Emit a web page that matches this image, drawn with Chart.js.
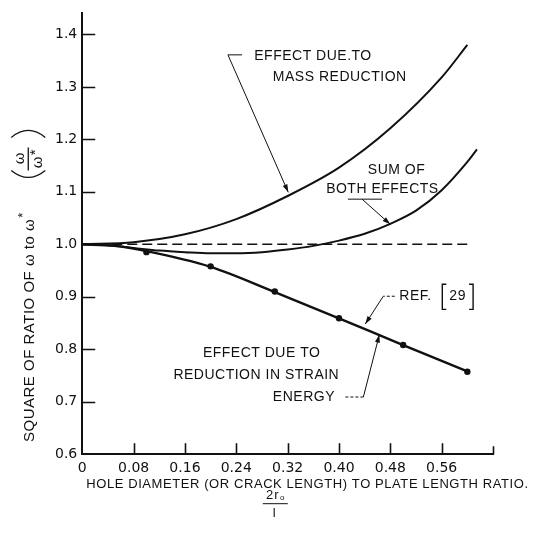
<!DOCTYPE html>
<html>
<head>
<meta charset="utf-8">
<script src="https://cdn.jsdelivr.net/npm/chart.js@4.4.1/dist/chart.umd.min.js"></script>
<style>
  html, body { margin: 0; padding: 0; background: #fff; }
  canvas { display: block; }
</style>
</head>
<body>
<canvas id="ratioChart" width="536" height="548"></canvas>
<script>
// Square of frequency ratio against hole size

const xTicks = [0, 0.08, 0.16, 0.24, 0.32, 0.40, 0.48, 0.56, 0.64];
const xTickLabels = ['0', '0.08', '0.16', '0.24', '0.32', '0.40', '0.48', '0.56', ''];
const yTicks = [0.6, 0.7, 0.8, 0.9, 1.0, 1.1, 1.2, 1.3, 1.4];
const yTickLabels = ['0.6', '0.7', '0.8', '0.9', '1.0', '1.1', '1.2', '1.3', '1.4'];

// effect due to mass reduction
const massX = [0, 0.08, 0.16, 0.24, 0.32, 0.40, 0.48, 0.56, 0.60];
const massY = [1.0, 1.004, 1.019, 1.048, 1.092, 1.146, 1.221, 1.318, 1.38];

// sum of both effects
const sumX = [0, 0.04, 0.08, 0.12, 0.16, 0.20, 0.24, 0.28, 0.32, 0.36, 0.40, 0.44, 0.48, 0.52, 0.56, 0.60, 0.615];
const sumY = [1.0, 0.998, 0.993, 0.988, 0.985, 0.983, 0.983, 0.985, 0.990, 0.997, 1.007, 1.020, 1.039, 1.064, 1.103, 1.157, 1.181];

// effect due to reduction in strain energy
const strainX = [0, 0.05, 0.1, 0.2, 0.3, 0.4, 0.5, 0.6];
const strainY = [1.0, 0.997, 0.987, 0.957, 0.909, 0.859, 0.808, 0.758];

// points from ref. [29]
const refX = [0.1, 0.2, 0.3, 0.4, 0.5, 0.6];
const refY = [0.985, 0.958, 0.910, 0.859, 0.808, 0.757];

// unity reference line
const unityX = [0, 0.60];
const unityY = [1.0, 1.0];

const INK = '#111';

function pts(xs, ys) {
    return xs.map((x, i) => ({ x: x, y: ys[i] }));
}

// callout text, placed in data units
const notes = [
    { text: 'EFFECT DUE.TO', x: 0.268, y: 1.359 },
    { text: 'MASS REDUCTION', x: 0.297, y: 1.319 },
    { text: 'SUM OF', x: 0.445, y: 1.141 },
    { text: 'BOTH EFFECTS', x: 0.380, y: 1.105 },
    { text: 'REF.', x: 0.494, y: 0.901 },
    { text: '29', x: 0.572, y: 0.901 },
    { text: 'EFFECT DUE TO', x: 0.188, y: 0.793 },
    { text: 'REDUCTION IN STRAIN', x: 0.142, y: 0.751 },
    { text: 'ENERGY', x: 0.297, y: 0.709 }
];

// leader lines; arrow drawn at the last point
const leaders = [
    { path: [[0.249, 1.361], [0.227, 1.361], [0.321, 1.099]], arrow: true },
    { path: [[0.467, 1.086], [0.414, 1.086]] },
    { path: [[0.436, 1.086], [0.480, 1.038]], arrow: true },
    { path: [[0.487, 0.901], [0.469, 0.901]], dash: [3, 2] },
    { path: [[0.469, 0.901], [0.441, 0.848]], arrow: true },
    { path: [[0.410, 0.709], [0.438, 0.709]], dash: [3, 2] },
    { path: [[0.438, 0.709], [0.463, 0.828]], arrow: true }
];

// brackets round the reference number
const brackets = [
    { x: 0.561, y0: 0.924, y1: 0.876, dir: 1 },
    { x: 0.609, y0: 0.924, y1: 0.876, dir: -1 }
];

const decorations = {
    id: 'decorations',
    afterDraw(chart) {
        const ctx = chart.ctx;
        const xs = chart.scales.x;
        const ys = chart.scales.y;
        const area = chart.chartArea;
        const px = v => xs.getPixelForValue(v);
        const py = v => ys.getPixelForValue(v);

        ctx.save();
        ctx.strokeStyle = INK;
        ctx.fillStyle = INK;

        // inward tick marks
        ctx.lineWidth = 1.6;
        ctx.beginPath();
        yTicks.forEach(v => {
            if (v === 0.6) return;
            const y = Math.round(py(v)) + 0.5;
            ctx.moveTo(area.left, y);
            ctx.lineTo(area.left + 13, y);
        });
        xTicks.forEach(v => {
            if (v === 0) return;
            const x = Math.round(px(v)) + 0.5;
            ctx.moveTo(x, area.bottom);
            ctx.lineTo(x, area.bottom - (v === 0.64 ? 8 : 11));
        });
        ctx.stroke();

        // callout text
        ctx.font = '14px "Liberation Sans"';
        ctx.letterSpacing = '0.5px';
        ctx.textAlign = 'left';
        ctx.textBaseline = 'middle';
        notes.forEach(n => ctx.fillText(n.text, px(n.x), py(n.y)));

        // leaders and arrowheads
        ctx.lineWidth = 1;
        leaders.forEach(l => {
            ctx.setLineDash(l.dash || []);
            ctx.beginPath();
            l.path.forEach((p, i) => {
                if (i === 0) ctx.moveTo(px(p[0]), py(p[1]));
                else ctx.lineTo(px(p[0]), py(p[1]));
            });
            ctx.stroke();
            ctx.setLineDash([]);
            if (l.arrow) {
                const a = l.path[l.path.length - 2];
                const b = l.path[l.path.length - 1];
                const x1 = px(a[0]), y1 = py(a[1]), x2 = px(b[0]), y2 = py(b[1]);
                const ang = Math.atan2(y2 - y1, x2 - x1);
                ctx.beginPath();
                ctx.moveTo(x2, y2);
                ctx.lineTo(x2 - 8 * Math.cos(ang) + 2.5 * Math.sin(ang), y2 - 8 * Math.sin(ang) - 2.5 * Math.cos(ang));
                ctx.lineTo(x2 - 8 * Math.cos(ang) - 2.5 * Math.sin(ang), y2 - 8 * Math.sin(ang) + 2.5 * Math.cos(ang));
                ctx.closePath();
                ctx.fill();
            }
        });

        ctx.lineWidth = 1.4;
        brackets.forEach(b => {
            const x = px(b.x);
            ctx.beginPath();
            ctx.moveTo(x + 4 * b.dir, py(b.y0));
            ctx.lineTo(x, py(b.y0));
            ctx.lineTo(x, py(b.y1));
            ctx.lineTo(x + 4 * b.dir, py(b.y1));
            ctx.stroke();
        });

        // y axis title, read bottom to top
        ctx.save();
        ctx.translate(area.left - 52, area.top + 313);
        ctx.rotate(-Math.PI / 2);
        ctx.font = '15px "Liberation Sans"';
        ctx.letterSpacing = '0.5px';
        const main = 'SQUARE OF RATIO OF ω to ω';
        const w = ctx.measureText(main).width;
        ctx.textAlign = 'left';
        ctx.fillText(main, -w / 2 - 4, 0);
        ctx.font = '13px "Liberation Sans"';
        ctx.fillText('*', w / 2 - 3, -7);
        ctx.restore();

        // (ω / ω*) fraction beside the title
        const fx = area.left - 54, fy = area.top + 141;
        ctx.lineWidth = 1.3;
        ctx.beginPath();
        ctx.moveTo(fx - 17, fy - 17);
        ctx.quadraticCurveTo(fx, fy - 31, fx + 17, fy - 17);
        ctx.moveTo(fx - 17, fy + 16);
        ctx.quadraticCurveTo(fx, fy + 30, fx + 17, fy + 16);
        ctx.moveTo(fx, fy - 7);
        ctx.lineTo(fx, fy + 16);
        ctx.stroke();
        ctx.font = '15px "Liberation Sans"';
        ctx.letterSpacing = '0px';
        ctx.textAlign = 'center';
        [['ω', fx - 8, fy + 4], ['ω', fx + 10, fy + 8], ['*', fx + 8, fy - 2]].forEach(g => {
            ctx.save();
            ctx.translate(g[1], g[2]);
            ctx.rotate(-Math.PI / 2);
            ctx.fillText(g[0], 0, 0);
            ctx.restore();
        });

        // x axis title and the 2r/l ratio beneath it
        ctx.font = '13px "Liberation Sans"';
        ctx.letterSpacing = '0.58px';
        ctx.textAlign = 'left';
        ctx.fillText('HOLE DIAMETER (OR CRACK LENGTH) TO PLATE LENGTH RATIO.', area.left + 4, area.bottom + 30);

        const cx = px(0.30);
        ctx.letterSpacing = '1px';
        ctx.textAlign = 'center';
        ctx.font = '13px "Liberation Sans"';
        ctx.fillText('2r', cx - 2, area.bottom + 41);
        ctx.font = '8px "Liberation Sans"';
        ctx.fillText('o', cx + 8, area.bottom + 44);
        ctx.lineWidth = 1;
        ctx.beginPath();
        ctx.moveTo(cx - 12, area.bottom + 49.5);
        ctx.lineTo(cx + 13, area.bottom + 49.5);
        ctx.stroke();
        ctx.font = '13px "Liberation Sans"';
        ctx.fillText('l', cx, area.bottom + 59);

        ctx.restore();
    }
};

const ctx = document.getElementById('ratioChart').getContext('2d');
const ratioChart = new Chart(ctx, {
    type: 'scatter',
    data: {
        datasets: [
            {
                data: pts(massX, massY),
                showLine: true,
                borderColor: INK,
                borderWidth: 2,
                pointRadius: 0,
                cubicInterpolationMode: 'monotone'
            },
            {
                data: pts(sumX, sumY),
                showLine: true,
                borderColor: INK,
                borderWidth: 2,
                pointRadius: 0,
                cubicInterpolationMode: 'monotone'
            },
            {
                data: pts(unityX, unityY),
                showLine: true,
                borderColor: INK,
                borderWidth: 1.5,
                borderDash: [10, 5],
                pointRadius: 0
            },
            {
                data: pts(strainX, strainY),
                showLine: true,
                borderColor: INK,
                borderWidth: 2.4,
                pointRadius: 0,
                cubicInterpolationMode: 'monotone'
            },
            {
                data: pts(refX, refY),
                showLine: false,
                pointRadius: 3.2,
                pointStyle: 'circle',
                backgroundColor: INK,
                borderWidth: 0
            }
        ]
    },
    options: {
        responsive: false,
        animation: false,
        layout: {
            padding: { left: 50, top: 2, right: 43, bottom: 65 }
        },
        plugins: {
            legend: { display: false },
            tooltip: { enabled: false }
        },
        scales: {
            x: {
                type: 'linear',
                min: 0,
                max: 0.64,
                afterBuildTicks: s => { s.ticks = xTicks.map(v => ({ value: v })); },
                ticks: {
                    autoSkip: false,
                    maxRotation: 0,
                    padding: 6,
                    color: INK,
                    font: { family: 'DejaVu Sans', size: 14 },
                    callback: (v, i) => xTickLabels[i]
                },
                grid: { display: false, drawTicks: false },
                border: { display: true, color: INK, width: 2 }
            },
            y: {
                type: 'linear',
                min: 0.6,
                max: 1.44,
                afterBuildTicks: s => { s.ticks = yTicks.map(v => ({ value: v })); },
                ticks: {
                    autoSkip: false,
                    padding: 5,
                    color: INK,
                    font: { family: 'DejaVu Sans', size: 14 },
                    callback: (v, i) => yTickLabels[i]
                },
                grid: { display: false, drawTicks: false },
                border: { display: true, color: INK, width: 2 }
            }
        }
    },
    plugins: [decorations]
});
</script>
</body>
</html>
